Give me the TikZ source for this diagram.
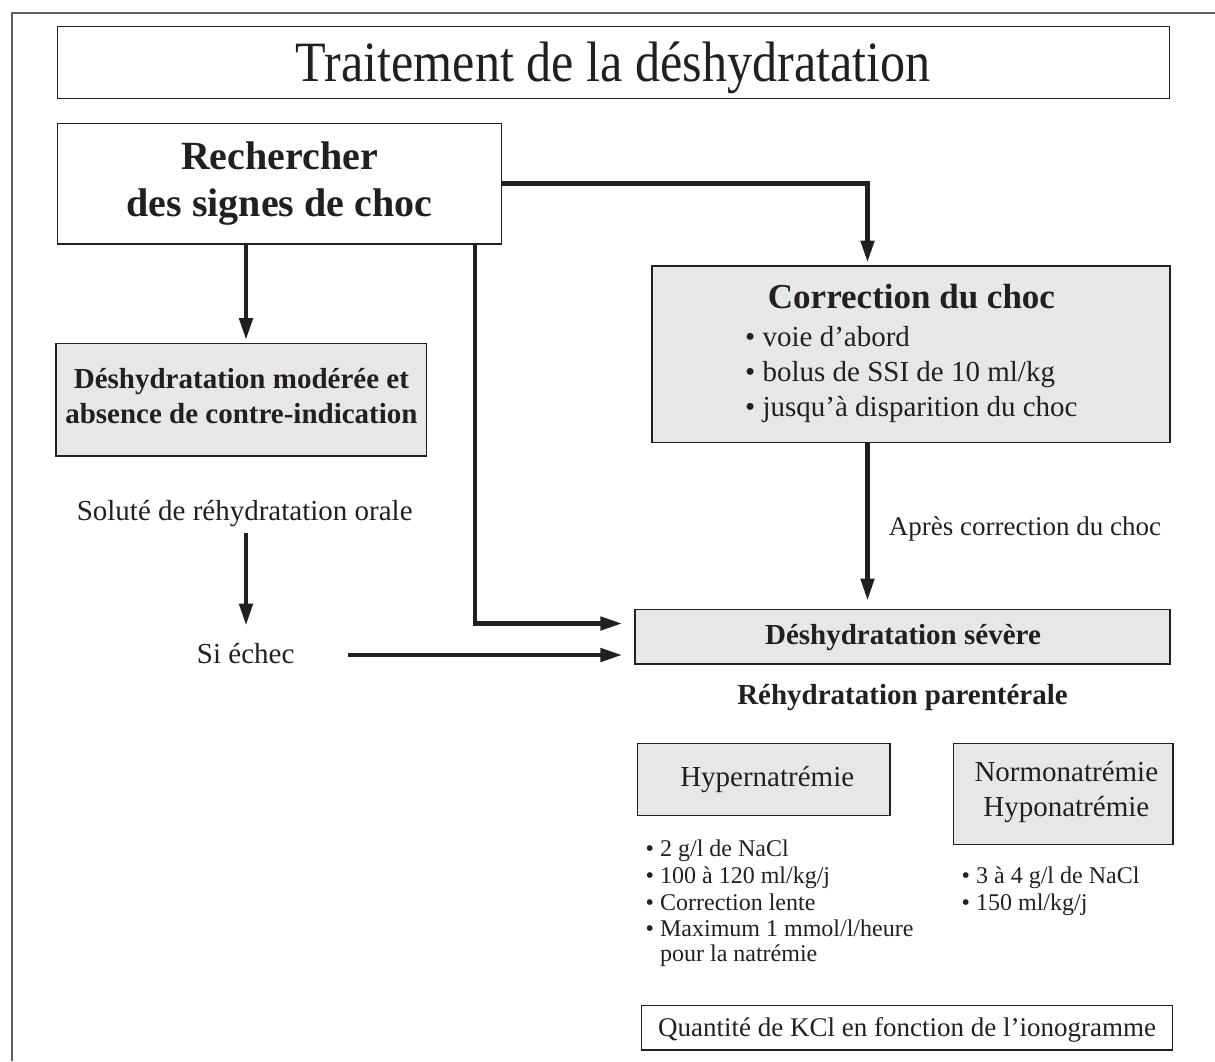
\documentclass[tikz,border=0pt]{standalone}
\usepackage{fontspec}
\setmainfont{Liberation Serif}
\usetikzlibrary{arrows.meta}
\definecolor{ink}{RGB}{35,31,32}
\definecolor{boxfill}{RGB}{230,231,232}
\definecolor{framecol}{RGB}{95,95,95}
\newcommand\fsz[1]{\fontsize{#1}{#1}\selectfont}
\begin{document}
\begin{tikzpicture}[x=1pt,y=-1pt,
  box/.style={draw=ink, line width=1.3pt, inner sep=0pt},
  gbox/.style={box, fill=boxfill},
  txt/.style={inner sep=0pt, text=ink, anchor=base},
  ltxt/.style={inner sep=0pt, text=ink, anchor=base west},
  arr/.style={draw=ink, line width=4.6pt, line join=miter,
    -{Triangle[length=22pt,width=13pt]}},
  ]
\useasboundingbox (0,0) rectangle (1215,1061);
% frame
\draw[framecol, line width=2pt] (11.7,1061) -- (11.7,12.7) -- (1215,12.7);

% boxes
\node[box, minimum width=1112pt, minimum height=71.6pt] (title) at (613.3,62.5) {};
\node[box, fill=white, minimum width=444.4pt, minimum height=120.7pt] (rech) at (279.5,183.65) {};
\node[gbox, minimum width=370.7pt, minimum height=112.7pt] (mod) at (241.35,399.65) {};
\node[gbox, minimum width=518pt, minimum height=176.7pt] (corr) at (911,354.35) {};
\node[gbox, minimum width=535pt, minimum height=54.7pt] (sev) at (902.5,636.65) {};
\node[gbox, minimum width=252.7pt, minimum height=72.4pt] (hyper) at (763.65,779.5) {};
\node[gbox, minimum width=219.7pt, minimum height=101pt] (normo) at (1063.15,793.8) {};
\node[box, minimum width=530.8pt, minimum height=44.3pt] (quant) at (907.1,1027.85) {};

% texts
\node[txt] (titleT) at (613.3,81.7) {\fsz{57}\scalebox{0.88}[1]{Traitement de la déshydratation}};
\node[txt] (rechA) at (279.5,169.3) {\fsz{40}\bfseries Rechercher};
\node[txt] (rechB) at (279.5,216.7) {\fsz{40}\bfseries des signes de choc};
\node[txt] (modA) at (241.4,388.3) {\fsz{29}\bfseries Déshydratation modérée et};
\node[txt] (modB) at (241.4,423.3) {\fsz{29}\bfseries absence de contre-indication};
\node[txt] (sol) at (244.7,520) {\fsz{29}Soluté de réhydratation orale};
\node[txt] (sie) at (245.7,663) {\fsz{29}Si échec};
\node[txt] (corrT) at (911.5,308) {\fsz{35}\bfseries Correction du choc};
\node[ltxt] (corrA) at (745,346.7) {\fsz{29}• voie d’abord};
\node[ltxt] (corrB) at (745,381.7) {\fsz{29}• bolus de SSI de 10 ml/kg};
\node[ltxt] (corrC) at (745,416.4) {\fsz{29}• jusqu’à disparition du choc};
\node[ltxt] (apres) at (888.7,535) {\fsz{27}Après correction du choc};
\node[txt] (sevT) at (903,644) {\fsz{29}\bfseries Déshydratation sévère};
\node[txt] (paren) at (902.5,704) {\fsz{29}\bfseries Réhydratation parentérale};
\node[txt] (hyperT) at (767.2,786.7) {\fsz{29}Hypernatrémie};
\node[txt] (normoA) at (1066.3,781.7) {\fsz{29}Normonatrémie};
\node[txt] (normoB) at (1066.3,816.7) {\fsz{29}Hyponatrémie};
\node[ltxt] (hl1) at (645.5,856.7) {\fsz{24}• 2 g/l de NaCl};
\node[ltxt] (hl2) at (645.5,883.3) {\fsz{24}• 100 à 120 ml/kg/j};
\node[ltxt] (hl3) at (645.5,910) {\fsz{24}• Correction lente};
\node[ltxt] (hl4) at (645.5,936.7) {\fsz{24}• Maximum 1 mmol/l/heure};
\node[ltxt] (hl5) at (645.5,961.7) {\fsz{24}\hphantom{• }pour la natrémie};
\node[ltxt] (nl1) at (961.5,883.3) {\fsz{24}• 3 à 4 g/l de NaCl};
\node[ltxt] (nl2) at (961.5,910) {\fsz{24}• 150 ml/kg/j};
\node[txt] (quantT) at (907.1,1036.7) {\fsz{27}Quantité de KCl en fonction de l’ionogramme};

% connector helpers
\coordinate (xa) at (246,0);
\coordinate (xb) at (475,0);
\coordinate (xc) at (867.5,0);
\coordinate (ya) at (0,623.5);
\coordinate (yb) at (0,655);

% connectors
\draw[arr, shorten >=2.5pt] (rech.south -| xa) -- (mod.north -| xa);
\draw[arr, shorten >=2.7pt] (rech.east) -- (rech.east -| xc) -- (corr.north -| xc);
\draw[arr, shorten >=12pt] (rech.south -| xb) -- (ya -| xb) -- (sev.west |- ya);
\draw[arr, shorten <=7pt, shorten >=17pt] (sol.south -| xa) -- (sie.north -| xa);
\draw[arr, shorten <=53.6pt, shorten >=12pt] (sie.east |- yb) -- (sev.west |- yb);
\draw[arr, shorten >=8pt] (corr.south -| xc) -- (sev.north -| xc);
\end{tikzpicture}
\end{document}
